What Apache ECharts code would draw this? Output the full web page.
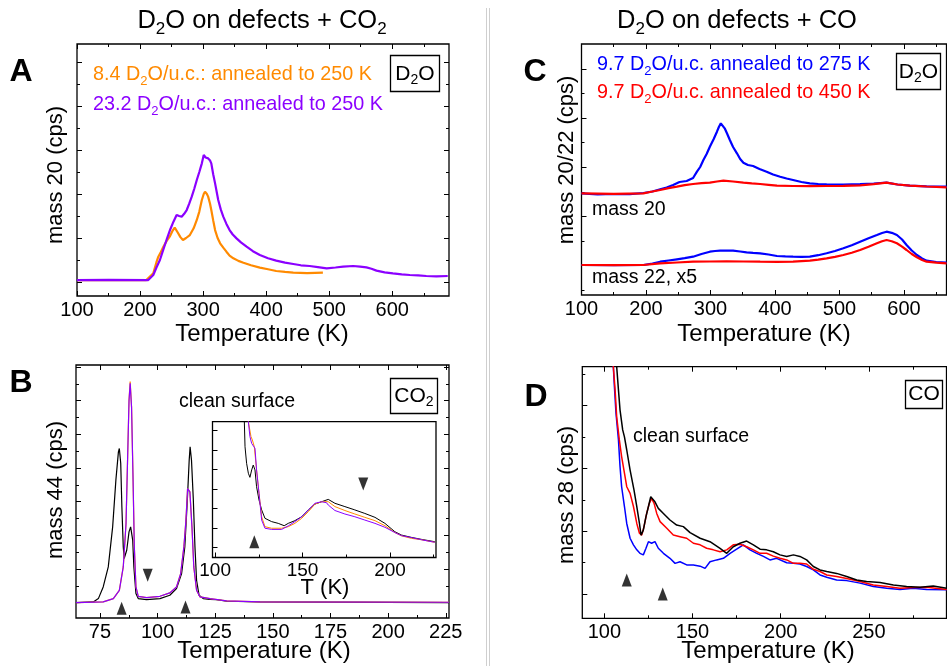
<!DOCTYPE html>
<html><head><meta charset="utf-8">
<script src="https://cdn.jsdelivr.net/npm/echarts@6/dist/echarts.min.js"></script>
<style>html,body{margin:0;padding:0;background:#fff}#c{width:947px;height:666px}</style>
</head><body><div id="c"></div>
<script>
const FONT = '"Liberation Sans", Arial, Helvetica, sans-serif';
const ORANGE = '#FF8A00', PURPLE = '#8B00FF', BLUE = '#0000FF', RED = '#FF0000', BLACK = '#000000';

// ---------- Panel A : mass 20, D2O on defects + CO2 ----------
const aOrange = [[100,0.045],[150,0.04],[210,0.045],[221,0.197],[226,0.45],[229,0.576],[233,0.68],[237,0.803],[242,0.93],[247,1.03],[251,1.15],[255,1.234],[260,1.12],[264,1.02],[268,0.955],[273,1.0],[279,1.068],[285,1.22],[290,1.41],[294,1.6],[298,1.864],[301,2.0],[303,2.053],[306,2.0],[308,1.94],[311,1.78],[313,1.636],[316,1.4],[319,1.18],[323,1.0],[327,0.879],[332,0.78],[337,0.689],[342,0.6],[348,0.538],[356,0.48],[364,0.439],[376,0.38],[390,0.326],[403,0.29],[416,0.25],[430,0.23],[443,0.212],[465,0.2],[490,0.212]];
const aPurple = [[100,0.045],[150,0.05],[213,0.045],[221,0.159],[226,0.33],[231.5,0.5],[237,0.74],[242,0.955],[248,1.2],[253,1.371],[258,1.523],[262,1.5],[266,1.485],[270,1.55],[274,1.636],[278,1.78],[282,1.939],[286,2.12],[290,2.318],[294,2.5],[298,2.697],[301,2.886],[304,2.83],[306,2.87],[308,2.81],[311,2.76],[313,2.697],[316,2.45],[319,2.242],[324,1.864],[328,1.65],[332,1.485],[337,1.32],[342,1.18],[347,1.08],[353,0.992],[360,0.9],[369,0.803],[379,0.7],[390,0.614],[403,0.54],[416,0.485],[430,0.44],[443,0.409],[455,0.38],[469,0.364],[482,0.34],[496,0.311],[510,0.33],[522,0.348],[538,0.364],[549,0.35],[559,0.333],[567,0.3],[575,0.258],[588,0.22],[601,0.197],[615,0.175],[628,0.159],[641,0.15],[654,0.136],[670,0.13],[688,0.136]];
const aXTickLabels = [100,200,300,400,500,600];

// ---------- Panel B : mass 44 ----------
const bBlack = [[64.6,0],[72.1,0.02],[74.3,0.118],[76.4,0.465],[78.6,1.06],[80.5,2.25],[81.9,3.64],[83.0,4.48],[83.4,4.58],[84.0,4.14],[84.5,2.85],[85.1,1.656],[85.5,1.31],[86.6,1.556],[87.6,2.10],[88.3,2.25],[89.2,1.854],[89.7,1.06],[90.6,0.267],[91.6,0.118],[95.2,0.088],[101,0.118],[105.3,0.217],[108.2,0.416],[110.4,0.862],[111.8,1.656],[112.9,3.045],[113.7,4.235],[114.1,4.63],[114.7,4.235],[115.5,3.045],[116.2,1.656],[116.9,0.664],[118,0.217],[119.8,0.118],[122.7,0.098],[125.6,0.088],[129.9,0.04],[144.4,0.02],[226.4,0]];
const bOrange = [[64.6,0],[76.4,0.02],[80.8,0.118],[83.4,0.366],[85.1,1.06],[86.3,2.35],[87.0,4.33],[87.6,6.02],[88.1,6.57],[88.7,5.82],[89.3,3.84],[89.9,1.656],[90.6,0.465],[91.6,0.1875],[95.2,0.148],[101,0.1875],[105.3,0.287],[108.2,0.465],[110,0.862],[111.4,1.656],[112.3,2.45],[113,3.39],[113.4,3.44],[114,3.29],[114.9,2.25],[115.7,1.06],[116.9,0.366],[118.4,0.168],[122.7,0.118],[129.9,0.05],[144.4,0.02],[226.4,0.01]];
const bPurple = [[64.6,0],[76.4,0.02],[80.8,0.118],[83.4,0.366],[85.1,1.06],[86.3,2.35],[87.0,4.33],[87.6,6.0],[88.1,6.52],[88.7,5.8],[89.3,3.84],[89.9,1.656],[90.6,0.465],[91.6,0.1875],[95.2,0.148],[101,0.1875],[105.3,0.287],[108.2,0.465],[110,0.862],[111.4,1.656],[112.3,2.45],[113,3.39],[113.4,3.44],[114,3.29],[114.9,2.25],[115.7,1.06],[116.9,0.366],[118.4,0.168],[122.7,0.118],[129.9,0.05],[144.4,0.02],[226.4,0.01]];
const bUpMarks = [[84.4,-0.17],[112.1,-0.13]];
const bDownMarks = [[95.7,0.81]];
const bXTickLabels = [75,100,125,150,175,200,225];

// ---------- Panel B inset ----------
const iBlack = [[116.3,8],[116.7,6.97],[117.1,5.68],[118,4.83],[119,4.32],[119.9,4.11],[120.9,4.49],[121.8,4.74],[122.8,4.49],[123.7,3.63],[125.1,2.95],[126.6,2.44],[128.5,2.01],[132.3,1.84],[136.1,1.75],[139.5,1.63],[141.8,1.75],[145.6,1.89],[149.5,2.09],[153.3,2.44],[157.1,2.74],[160.9,2.86],[164.7,2.98],[168.5,2.78],[174.2,2.61],[179.9,2.44],[185.6,2.26],[191.4,2.06],[197.1,1.75],[202.8,1.32],[206.6,1.15],[212.3,1.03],[218,0.93],[225.6,0.81]];
const iOrange = [[118.7,8],[119,6.97],[120.5,6.2],[121.3,6.03],[122.4,5.68],[123.7,4.49],[125.1,3.29],[126.6,2.09],[128.5,1.58],[132.3,1.50],[138,1.50],[141.8,1.58],[145.6,1.75],[149.5,2.01],[153.3,2.35],[157.1,2.74],[160.9,2.86],[164.7,2.86],[168.5,2.61],[174.2,2.41],[179.9,2.23],[185.6,2.06],[191.4,1.89],[197.1,1.63],[202.8,1.28],[206.6,1.11],[212.3,0.98],[218,0.91],[225.6,0.78]];
const iPurple = [[118.7,8],[119,6.97],[119.9,6.2],[120.9,5.85],[121.8,5.94],[122.8,5.6],[123.7,4.49],[125.1,3.29],[126.6,1.92],[128.5,1.50],[132.3,1.44],[138,1.44],[141.8,1.62],[145.6,1.84],[149.5,2.09],[153.3,2.44],[157.1,2.78],[160.9,2.86],[163.7,2.81],[164.7,2.69],[168.5,2.41],[174.2,2.23],[179.9,2.09],[185.6,1.92],[191.4,1.75],[197.1,1.55],[202.8,1.28],[206.6,1.12],[212.3,1.02],[218,0.91],[225.6,0.78]];
const iUpMarks = [[122.4,0.81]];
const iDownMarks = [[184.7,3.77]];
const iXTickLabels = [100,150,200];

// ---------- Panel C : mass 20 / 22 ----------
const cBlue20 = [[100,101.7],[125,100.5],[150,101],[175,100.8],[196,102],[210,103.5],[222,105.7],[232,107.5],[242,110],[252,113],[263,114],[273,117],[279,123.3],[284,128],[289,135],[294,141],[299,148.3],[305,156],[310,163.3],[313,168],[316,171.7],[319,170],[322,166.7],[326,161],[330,155],[335,148],[341,141.7],[346,136],[351,132.3],[358,130],[366,129],[376,126],[387,123.3],[397,120.5],[408,118.3],[418,116.5],[428,115],[441,113],[454,111.7],[467,111],[480,110.7],[506,110.5],[532,111],[553,111.5],[573,112.3],[590,110.5],[609,109.3],[635,108.7],[666,108.3]];
const cRed20 = [[100,101.7],[150,101.2],[196,101.7],[210,103.5],[222,105],[235,106.8],[248,108.3],[260,109.8],[273,111],[286,111.8],[299,112.3],[310,113.5],[320,114.3],[335,113.5],[351,112.3],[364,111.6],[377,111],[390,110.2],[403,109.3],[428,109],[454,108.8],[480,109],[506,109.2],[532,109.7],[553,110.8],[573,112.3],[590,110.5],[609,109.3],[635,108.5],[666,107.7]];
const cBlue22 = [[100,30],[150,29.8],[196,30],[210,31.5],[222,33.3],[235,34.5],[248,35.7],[260,36.8],[273,38.3],[286,41],[299,43.3],[307,44],[315,44.3],[325,44.5],[335,44.3],[346,43.5],[356,42.7],[366,42.2],[377,41.7],[390,40.5],[403,39],[416,38.6],[428,38.3],[441,38.2],[454,38.3],[467,39.8],[480,41.7],[493,44],[506,46.7],[519,49.8],[532,53.3],[545,56.8],[558,60],[566,62],[573,63.3],[581,62.2],[589,60],[597,55.5],[604,50],[612,44.5],[620,40],[628,36.5],[635,34.3],[650,33],[666,32.3]];
const cRed22 = [[100,30],[150,29.8],[196,30],[222,31.7],[248,32.5],[273,33.3],[299,33.5],[325,33.7],[351,33.5],[377,33.3],[403,33.2],[428,33.3],[454,34.3],[467,35.3],[480,36.7],[493,38.2],[506,40],[519,42.3],[532,45],[545,48.2],[558,51.7],[566,53.8],[573,55],[581,53.8],[589,51.7],[597,48.4],[604,45],[612,41],[620,37.7],[628,35],[635,33.3],[650,32.3],[666,31.7]];
const cXTickLabels = [100,200,300,400,500,600];

// ---------- Panel D : mass 28 ----------
const dBlue = [[104.6,9],[105.1,8.01],[105.7,7.38],[106.6,6.53],[108,5.68],[108.9,4.83],[109.8,4.19],[111.4,3.56],[112.7,3.02],[114.6,2.55],[116.5,2.34],[118.4,2.18],[120.2,2.07],[122.1,2.02],[123.6,2.23],[125,2.44],[126.8,2.39],[128.7,2.44],[130.6,2.23],[133.5,2.07],[137.2,1.91],[140.1,1.75],[142.9,1.80],[146.7,1.70],[150.5,1.70],[154.3,1.66],[157.1,1.59],[159.9,1.80],[163.7,1.86],[167.5,1.91],[171.3,2.07],[175,2.20],[178.8,2.34],[182.6,2.18],[186.4,2.07],[190.2,1.97],[193.9,1.86],[197.7,1.91],[203.4,1.77],[207.2,1.75],[210.9,1.73],[214.7,1.65],[218.5,1.54],[222.3,1.38],[226.1,1.31],[231.7,1.22],[237.4,1.20],[245,1.12],[252.5,1.01],[260.1,0.96],[267.6,0.92],[275.2,0.96],[282.7,0.92],[294.1,0.91]];
const dRed = [[104.6,9],[105.1,8.01],[106.1,7.27],[107,6.42],[108.5,5.68],[109.8,5.15],[111.4,4.62],[112.7,4.19],[114.6,3.98],[116.5,3.56],[118.4,3.02],[119.9,2.71],[121.2,2.65],[122.5,2.92],[124,3.34],[125.5,3.66],[126.8,3.82],[128.2,3.66],[129.7,3.34],[131.6,3.08],[135.4,2.87],[139.1,2.65],[142.9,2.60],[146.7,2.55],[150.5,2.39],[154.3,2.34],[158,2.23],[161.8,2.18],[165.6,2.12],[169.4,2.18],[173.1,2.34],[176.9,2.36],[180.7,2.28],[184.5,2.18],[188.3,2.07],[192,2.07],[195.8,1.98],[199.6,1.91],[203.4,1.86],[207.2,1.75],[210.9,1.75],[214.7,1.73],[218.5,1.56],[222.3,1.49],[226.1,1.38],[231.7,1.33],[237.4,1.27],[245,1.17],[252.5,1.06],[260.1,1.01],[267.6,0.96],[275.2,0.98],[282.7,0.99],[294.1,0.92]];
const dBlack = [[106.5,9],[107.0,8.01],[108.0,7.27],[108.9,6.63],[110.4,6.0],[111.4,5.78],[112.7,5.36],[114.6,4.72],[116.8,4.09],[118.4,3.56],[119.9,3.02],[120.8,2.65],[122.1,2.81],[123.6,3.24],[125,3.56],[126.3,3.87],[127.4,3.93],[128.7,3.71],[130.6,3.50],[133.5,3.34],[137.2,3.13],[141,2.97],[144.8,2.92],[148.6,2.73],[154.3,2.55],[159.9,2.44],[165.6,2.23],[169.4,2.07],[173.1,2.28],[176.9,2.39],[180.7,2.46],[184.5,2.34],[188.3,2.20],[192,2.18],[195.8,2.12],[199.6,2.02],[203.4,1.97],[207.2,2.02],[210.9,1.97],[214.7,1.86],[218.5,1.65],[222.3,1.54],[226.1,1.49],[231.7,1.43],[237.4,1.33],[243.1,1.22],[248.7,1.17],[256.3,1.14],[263.9,1.06],[271.4,1.01],[279,0.99],[286.5,1.03],[294.1,0.96]];
const dUpMarks = [[112.7,1.22],[133.1,0.77]];
const dXTickLabels = [100,150,200,250];

// ---------- build ----------
const grids = [], xAxes = [], yAxes = [], series = [];
function range(a, b, s) { const r = []; for (let v = a; v <= b + 1e-9; v += s) r.push(+v.toFixed(4)); return r; }

function addPanel(p) {
  const gi = grids.length;
  grids.push({ left: p.g[0], top: p.g[1], width: p.g[2], height: p.g[3], show: true,
    borderColor: '#000', borderWidth: 1.3, backgroundColor: '#fff', z: p.z || 0 });
  const base = (rng) => ({ type: 'value', gridIndex: gi, min: rng[0], max: rng[1],
    axisLine: { show: false, onZero: false }, splitLine: { show: false }, z: p.z || 0 });
  const tick = (vals, len) => ({ show: true, inside: true, length: len, customValues: vals, lineStyle: { color: '#000', width: 1 } });
  const xi = xAxes.length, yi = yAxes.length;
  xAxes.push(Object.assign(base(p.x), { position: 'bottom', axisTick: tick(p.xMaj, 5),
    axisLabel: { show: true, customValues: p.xLab, margin: p.labMargin || 4, fontSize: p.labSize || 20, color: '#000', fontFamily: FONT } }));
  xAxes.push(Object.assign(base(p.x), { position: 'bottom', axisTick: tick(p.xMin, 3), axisLabel: { show: false } }));
  if (p.top) {
    xAxes.push(Object.assign(base(p.x), { position: 'top', axisTick: tick(p.xMaj, 5), axisLabel: { show: false } }));
    xAxes.push(Object.assign(base(p.x), { position: 'top', axisTick: tick(p.xMin, 3), axisLabel: { show: false } }));
  }
  yAxes.push(Object.assign(base(p.y), { position: 'left', axisTick: tick(p.yMaj, 5), axisLabel: { show: false } }));
  yAxes.push(Object.assign(base(p.y), { position: 'left', axisTick: tick(p.yMin, 3), axisLabel: { show: false } }));
  if (p.right) {
    yAxes.push(Object.assign(base(p.y), { position: 'right', axisTick: tick(p.yMaj, 5), axisLabel: { show: false } }));
    yAxes.push(Object.assign(base(p.y), { position: 'right', axisTick: tick(p.yMin, 3), axisLabel: { show: false } }));
  }
  return { xi, yi };
}
function line(ax, data, color, w, z) {
  series.push({ type: 'line', xAxisIndex: ax.xi, yAxisIndex: ax.yi, data, showSymbol: false, symbol: 'none',
    lineStyle: { color, width: w }, clip: true, z: z || 2, silent: true, animation: false });
}
function marks(ax, data, down, z) {
  series.push({ type: 'scatter', xAxisIndex: ax.xi, yAxisIndex: ax.yi, data, symbol: 'triangle',
    symbolSize: [10, 13], symbolRotate: down ? 180 : 0, itemStyle: { color: '#000' }, z: z || 3, silent: true, animation: false });
}

const A = addPanel({ g: [77, 44, 372, 252], x: [100, 690], y: [-0.318, 5.409],
  xMaj: range(100, 600, 100), xMin: range(150, 650, 100), xLab: aXTickLabels,
  yMaj: range(0, 5, 1), yMin: range(0.5, 4.5, 1), top: true, right: true });
line(A, aOrange, ORANGE, 2.2); line(A, aPurple, PURPLE, 2.2);

const B = addPanel({ g: [76, 365, 373, 253], x: [64.6, 226.4], y: [-0.458, 7.062],
  xMaj: range(75, 225, 25), xMin: range(87.5, 212.5, 25), xLab: bXTickLabels,
  yMaj: range(0, 7, 1), yMin: range(0.5, 6.5, 1), top: true, right: true });
line(B, bBlack, BLACK, 1.2); line(B, bOrange, ORANGE, 1.2); line(B, bPurple, PURPLE, 1.2);
marks(B, bUpMarks, false); marks(B, bDownMarks, true);

const I = addPanel({ g: [212.5, 421.7, 223.5, 135.8], x: [98.5, 226.3], y: [0, 6.964],
  xMaj: [100, 150, 200], xMin: [125, 175, 225], xLab: iXTickLabels, labSize: 19,
  yMaj: range(0.5, 6.5, 1), yMin: [], top: false, right: false, z: 5 });
line(I, iBlack, BLACK, 1, 6); line(I, iOrange, ORANGE, 1, 6); line(I, iPurple, PURPLE, 1, 6);
marks(I, iUpMarks, false, 7); marks(I, iDownMarks, true, 7);

const C = addPanel({ g: [581.5, 44, 365, 251], x: [100, 665.9], y: [0, 251],
  xMaj: range(100, 600, 100), xMin: range(150, 650, 100), xLab: cXTickLabels,
  yMaj: [29.3, 78.5, 127.7, 176.9, 226.1], yMin: [4.7, 53.9, 103.1, 152.3, 201.5], top: true, right: false });
line(C, cBlue20, BLUE, 2.2); line(C, cRed20, RED, 2.2); line(C, cBlue22, BLUE, 2.2); line(C, cRed22, RED, 2.2);

const D = addPanel({ g: [582.3, 366.7, 364.2, 251.6], x: [87.5, 294], y: [0, 8.013],
  xMaj: [100, 150, 200, 250], xMin: [125, 175, 225, 275], xLab: dXTickLabels,
  yMaj: [0.774, 2.774, 4.774, 6.774], yMin: [1.774, 3.774, 5.774, 7.774], top: true, right: false });
line(D, dBlue, BLUE, 1.5); line(D, dRed, RED, 1.5); line(D, dBlack, BLACK, 1.5);
marks(D, dUpMarks, false);

// ---------- text & decorations ----------
function richStyle(fs, color) {
  const sub = Math.round(fs * 0.66);
  return {
    n: { fontSize: fs, fontFamily: FONT, fill: color, color: color, lineHeight: fs + 2 },
    s: { fontSize: sub, fontFamily: FONT, fill: color, color: color, lineHeight: sub, padding: [Math.round(fs * 0.62), 0, 0, 0] },
    b: { fontSize: fs, fontFamily: FONT, fontWeight: 'bold', fill: color, color: color }
  };
}
function txt(x, y, text, fs, color, align, opts) {
  return Object.assign({ type: 'text', x, y, z: 100, silent: true,
    style: { text, rich: richStyle(fs, color), fill: color, font: fs + 'px ' + FONT, align: align || 'left', verticalAlign: 'middle' } }, opts || {});
}
function box(x, y, w, h) {
  return { type: 'rect', z: 90, silent: true, shape: { x, y, width: w, height: h }, style: { fill: '#fff', stroke: '#000', lineWidth: 1.3 } };
}
const graphics = [
  { type: 'line', silent: true, z: 1, shape: { x1: 486.5, y1: 8, x2: 486.5, y2: 666 }, style: { stroke: '#cfcfcf', lineWidth: 1 } },
  { type: 'line', silent: true, z: 1, shape: { x1: 489.5, y1: 8, x2: 489.5, y2: 666 }, style: { stroke: '#cfcfcf', lineWidth: 1 } },
  txt(262, 21, '{n|D}{s|2}{n|O on defects + CO}{s|2}', 25.5, '#000', 'center'),
  txt(737, 21, '{n|D}{s|2}{n|O on defects + CO}', 25.5, '#000', 'center'),
  txt(21, 72, '{b|A}', 32, '#000', 'center'),
  txt(21, 383, '{b|B}', 32, '#000', 'center'),
  txt(535, 72, '{b|C}', 32, '#000', 'center'),
  txt(536, 397, '{b|D}', 32, '#000', 'center'),
  txt(56, 175, '{n|mass 20 (cps)}', 22, '#000', 'center', { rotation: Math.PI / 2 }),
  txt(56, 490, '{n|mass 44 (cps)}', 22, '#000', 'center', { rotation: Math.PI / 2 }),
  txt(567, 160, '{n|mass 20/22 (cps)}', 22, '#000', 'center', { rotation: Math.PI / 2 }),
  txt(567, 495, '{n|mass 28 (cps)}', 22, '#000', 'center', { rotation: Math.PI / 2 }),
  txt(262, 334, '{n|Temperature (K)}', 24, '#000', 'center'),
  txt(764, 334, '{n|Temperature (K)}', 24, '#000', 'center'),
  txt(264, 651, '{n|Temperature (K)}', 24, '#000', 'center'),
  txt(768, 651, '{n|Temperature (K)}', 24, '#000', 'center'),
  txt(325, 588, '{n|T (K)}', 22, '#000', 'center', { z: 110 }),
  txt(93, 75, '{n|8.4 D}{s|2}{n|O/u.c.: annealed to 250 K}', 19.8, ORANGE, 'left'),
  txt(93, 105, '{n|23.2 D}{s|2}{n|O/u.c.: annealed to 250 K}', 19.8, PURPLE, 'left'),
  txt(597, 65, '{n|9.7 D}{s|2}{n|O/u.c. annealed to 275 K}', 19.8, BLUE, 'left'),
  txt(597, 93, '{n|9.7 D}{s|2}{n|O/u.c. annealed to 450 K}', 19.8, RED, 'left'),
  txt(592, 210, '{n|mass 20}', 19.5, '#000', 'left'),
  txt(592, 278, '{n|mass 22, x5}', 19.5, '#000', 'left'),
  txt(237, 402, '{n|clean surface}', 19.5, '#000', 'center'),
  txt(691, 437, '{n|clean surface}', 19.5, '#000', 'center'),
  box(390.5, 55.5, 49, 36), txt(415, 74, '{n|D}{s|2}{n|O}', 21, '#000', 'center'),
  box(896.5, 53.5, 44, 36), txt(918.5, 72, '{n|D}{s|2}{n|O}', 21, '#000', 'center'),
  box(390.5, 378.5, 47, 35), txt(414, 396, '{n|CO}{s|2}', 21, '#000', 'center'),
  box(905.5, 380.5, 37, 28), txt(924, 394.5, '{n|CO}', 21, '#000', 'center')
];

const chart = echarts.init(document.getElementById('c'), null, { renderer: 'canvas' });
chart.setOption({
  animation: false,
  backgroundColor: '#fff',
  grid: grids, xAxis: xAxes, yAxis: yAxes, series,
  graphic: { elements: graphics }
});
</script></body></html>
